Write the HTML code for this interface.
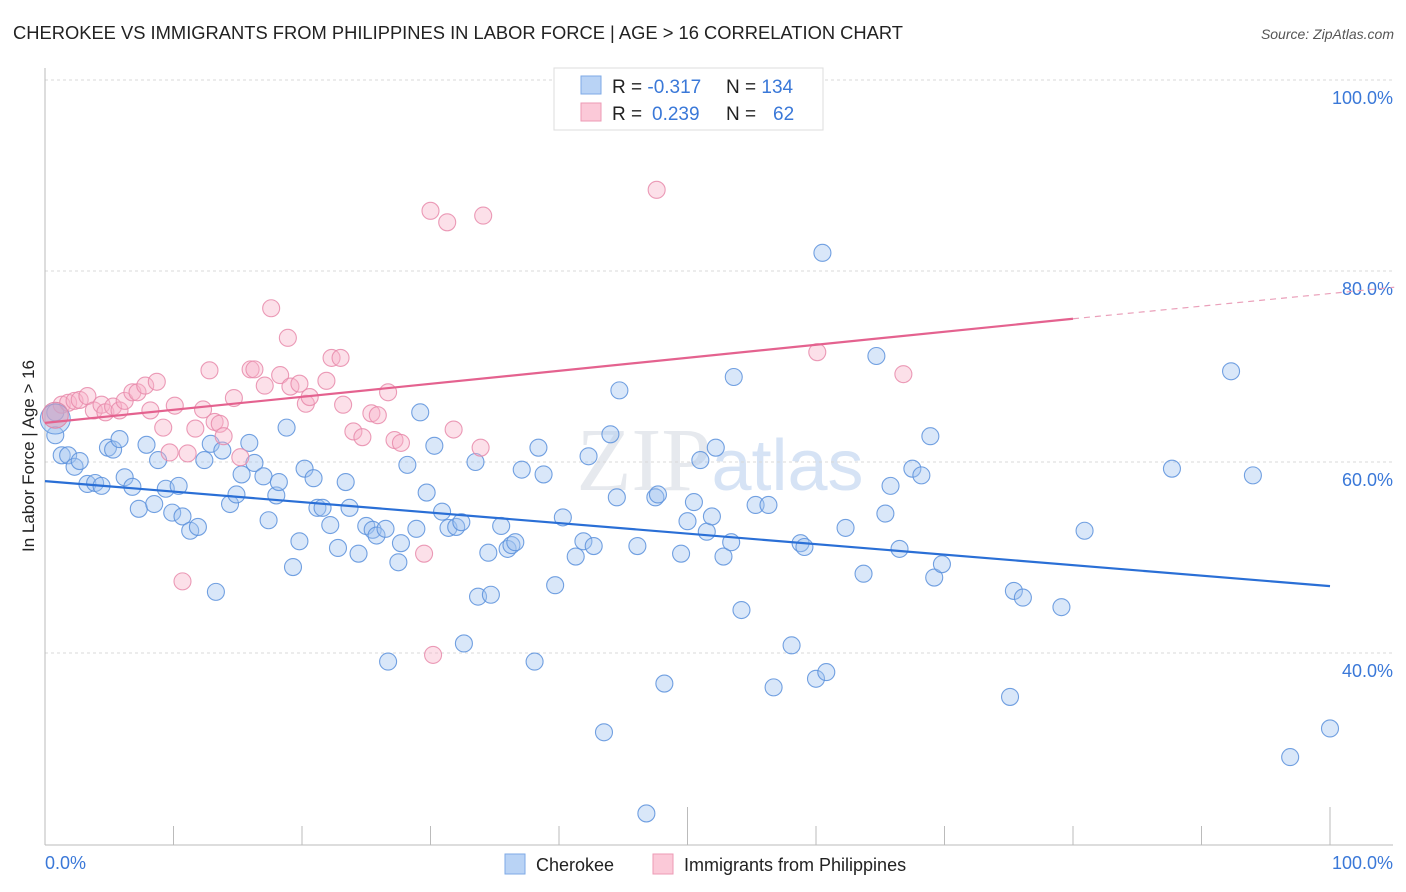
<!DOCTYPE html>
<html><head><meta charset="utf-8">
<style>
body{margin:0;background:#fff;font-family:"Liberation Sans",sans-serif;}
svg{display:block}
</style></head>
<body>
<svg id="chart" width="1406" height="892" xmlns="http://www.w3.org/2000/svg">
<text x="13" y="39" font-size="18" fill="#222" textLength="890" lengthAdjust="spacingAndGlyphs">CHEROKEE VS IMMIGRANTS FROM PHILIPPINES IN LABOR FORCE | AGE &gt; 16 CORRELATION CHART</text>
<text x="1394" y="39" font-size="14" fill="#555" font-style="italic" text-anchor="end">Source: ZipAtlas.com</text>
<text x="720" y="490" font-size="90" fill="#e6e9ee" text-anchor="middle" font-family="Liberation Serif,serif">ZIP<tspan fill="#d6e3f5" font-family="Liberation Sans,sans-serif" font-size="72">atlas</tspan></text>
<g id="grid"></g>
<g id="axes"></g>
<g id="pts"></g>
<g id="lines"></g>
<text transform="translate(34,456) rotate(-90)" font-size="17" fill="#222" text-anchor="middle">In Labor Force | Age &gt; 16</text>
<text x="45" y="869" font-size="18" fill="#3a78d8">0.0%</text>
<text x="1393" y="869" font-size="18" fill="#3a78d8" text-anchor="end">100.0%</text>
<g>
<rect x="554" y="68" width="269" height="62" fill="#fff" stroke="#ddd"/>
<rect x="581" y="76" width="20" height="18" fill="#b9d3f5" stroke="#7ea9e6"/>
<rect x="581" y="103" width="20" height="18" fill="#fbc9d8" stroke="#ec9ab5"/>
<text x="612" y="93" font-size="19" fill="#222">R = <tspan fill="#3a78d8">-0.317</tspan><tspan x="726">N = </tspan><tspan fill="#3a78d8">134</tspan></text>
<text x="612" y="120" font-size="19" fill="#222">R = <tspan fill="#3a78d8" x="652">0.239</tspan><tspan x="726">N = </tspan><tspan fill="#3a78d8" x="773">62</tspan></text>
</g>
<g>
<rect x="505" y="854" width="20" height="20" fill="#b9d3f5" stroke="#7ea9e6"/>
<text x="536" y="871" font-size="18" fill="#222">Cherokee</text>
<rect x="653" y="854" width="20" height="20" fill="#fbc9d8" stroke="#ec9ab5"/>
<text x="684" y="871" font-size="18" fill="#222">Immigrants from Philippines</text>
</g>
</svg>
<script>
const yTicks=[100,80,60,40];
const yTickLabels=["100.0%","80.0%","60.0%","40.0%"];
const xTicks=[0,10,20,30,40,50,60,70,80,90,100];
const blueX=[0.8,0.8,1.3,1.8,2.3,2.7,3.3,3.9,4.4,4.9,5.3,5.8,6.2,6.8,7.3,7.9,8.5,8.8,9.4,9.9,10.4,10.7,11.3,11.9,12.4,12.9,13.3,13.8,14.4,14.9,15.3,15.9,16.3,17.0,17.4,18.0,18.2,18.8,19.3,19.8,20.2,20.9,21.2,21.6,22.2,22.8,23.4,23.7,24.4,25.0,25.5,25.8,26.5,26.7,27.5,27.7,28.2,28.9,29.2,29.7,30.3,30.9,31.4,32.0,32.4,32.6,33.5,33.7,34.5,34.7,35.5,36.0,36.3,36.6,37.1,38.1,38.4,38.8,39.7,40.3,41.3,41.9,42.3,42.7,43.5,44.0,44.5,44.7,46.1,46.8,47.5,47.7,48.2,49.5,50.0,50.5,51.0,51.5,51.9,52.2,52.8,53.4,53.6,54.2,55.3,56.3,56.7,58.1,58.8,59.1,60.0,60.5,60.8,62.3,63.7,64.7,65.4,65.8,66.5,67.5,68.2,68.9,69.2,69.8,75.1,75.4,76.1,79.1,80.9,87.7,92.3,94.0,96.9,100.0];
const blueY=[65.2,62.8,60.7,60.7,59.5,60.1,57.7,57.8,57.5,61.5,61.3,62.4,58.4,57.4,55.1,61.8,55.6,60.2,57.2,54.7,57.5,54.3,52.8,53.2,60.2,61.9,46.4,61.2,55.6,56.6,58.7,62.0,59.9,58.5,53.9,56.5,57.9,63.6,49.0,51.7,59.3,58.3,55.2,55.2,53.4,51.0,57.9,55.2,50.4,53.3,52.9,52.3,53.0,39.1,49.5,51.5,59.7,53.0,65.2,56.8,61.7,54.8,53.1,53.2,53.7,41.0,60.0,45.9,50.5,46.1,53.3,50.9,51.3,51.6,59.2,39.1,61.5,58.7,47.1,54.2,50.1,51.7,60.6,51.2,31.7,62.9,56.3,67.5,51.2,23.2,56.3,56.6,36.8,50.4,53.8,55.8,60.2,52.7,54.3,61.5,50.1,51.6,68.9,44.5,55.5,55.5,36.4,40.8,51.5,51.1,37.3,81.9,38.0,53.1,48.3,71.1,54.6,57.5,50.9,59.3,58.6,62.7,47.9,49.3,35.4,46.5,45.8,44.8,52.8,59.3,69.5,58.6,29.1,32.1];
const pinkX=[1.3,1.8,2.3,2.7,3.3,3.8,4.4,4.7,5.3,5.8,6.2,6.8,7.2,7.8,8.2,8.7,9.2,9.7,10.1,10.7,11.1,11.7,12.3,12.8,13.2,13.6,13.9,14.7,15.2,16.0,16.3,17.1,17.6,18.3,18.9,19.1,19.8,20.3,20.6,21.9,22.3,23.0,23.2,24.0,24.7,25.4,25.9,26.7,27.2,27.7,29.5,30.0,30.2,31.3,31.8,33.9,34.1,47.6,60.1,66.8];
const pinkY=[66.0,66.2,66.4,66.5,66.9,65.4,66.0,65.2,65.8,65.4,66.4,67.3,67.3,68.0,65.4,68.4,63.6,61.0,65.9,47.5,60.9,63.5,65.5,69.6,64.2,64.0,62.7,66.7,60.5,69.7,69.7,68.0,76.1,69.1,73.0,67.9,68.2,66.1,66.8,68.5,70.9,70.9,66.0,63.2,62.6,65.1,64.9,67.3,62.3,62.0,50.4,86.3,39.8,85.1,63.4,61.5,85.8,88.5,71.5,69.2];
const bigBlue=[0.8,64.5];
const bigPink=[0.8,64.9];
const blueTrend=[[0,58.0],[100,47.0]];
const pinkTrend=[[0,64.1],[80,75.0]];
const pinkTrendExt=[[80,75.0],[105,78.3]];

const NS="http://www.w3.org/2000/svg";
const X=v=>45+v*12.85;
const Y=v=>80+(100-v)*9.55;
function mk(tag,attrs,parent){const e=document.createElementNS(NS,tag);for(const k in attrs)e.setAttribute(k,attrs[k]);parent.appendChild(e);return e;}
const grid=document.getElementById('grid'),axes=document.getElementById('axes'),pts=document.getElementById('pts'),lines=document.getElementById('lines');
yTicks.forEach((t,i)=>{
  const l=mk('line',{x1:45,x2:1393,y1:Y(t),y2:Y(t),stroke:'#d8d8d8','stroke-dasharray':'3,3'},grid);
  
  
  const tx=mk('text',{x:1393,y:Y(t)+24,'font-size':18,fill:'#3a78d8','text-anchor':'end'},grid);
  tx.textContent=yTickLabels[i];
  
  
});
const ax=mk('line',{x1:45,x2:45,y1:68,y2:845,stroke:'#bbb'},axes);


const bx=mk('line',{x1:45,x2:1393,y1:845,y2:845,stroke:'#bbb'},axes);


xTicks.forEach(t=>{
  const tall=(t===50||t===100);
  const l=mk('line',{x1:X(t),x2:X(t),y1:tall?807:826,y2:845,stroke:'#bbb'},axes);
  
  
});
blueX.forEach((x,i)=>{
  const c=mk('circle',{cx:X(x),cy:Y(blueY[i]),r:8.5,fill:'rgba(160,196,240,0.4)',stroke:'rgba(90,145,220,0.85)','stroke-width':1.1},pts);
  
  
});
pinkX.forEach((x,i)=>{
  const c=mk('circle',{cx:X(x),cy:Y(pinkY[i]),r:8.5,fill:'rgba(247,178,200,0.4)',stroke:'rgba(232,138,170,0.85)','stroke-width':1.1},pts);
  
  
});
const b1=mk('circle',{cx:X(bigBlue[0]),cy:Y(bigBlue[1]),r:15,fill:'rgba(160,196,240,0.5)',stroke:'#6d9fe2'},pts);


const b2=mk('circle',{cx:X(bigPink[0]),cy:Y(bigPink[1]),r:13,fill:'rgba(220,150,180,0.5)',stroke:'#e08aab'},pts);


const tb=mk('line',{x1:X(blueTrend[0][0]),y1:Y(blueTrend[0][1]),x2:X(blueTrend[1][0]),y2:Y(blueTrend[1][1]),stroke:'#2a6fd6','stroke-width':2.2},lines);


const tp=mk('line',{x1:X(pinkTrend[0][0]),y1:Y(pinkTrend[0][1]),x2:X(pinkTrend[1][0]),y2:Y(pinkTrend[1][1]),stroke:'#e4628f','stroke-width':2.2},lines);


const te=mk('line',{x1:X(pinkTrendExt[0][0]),y1:Y(pinkTrendExt[0][1]),x2:X(pinkTrendExt[1][0]),y2:Y(pinkTrendExt[1][1]),stroke:'#eaa0ba','stroke-width':1.2,'stroke-dasharray':'6,5'},lines);


</script>
</body></html>
